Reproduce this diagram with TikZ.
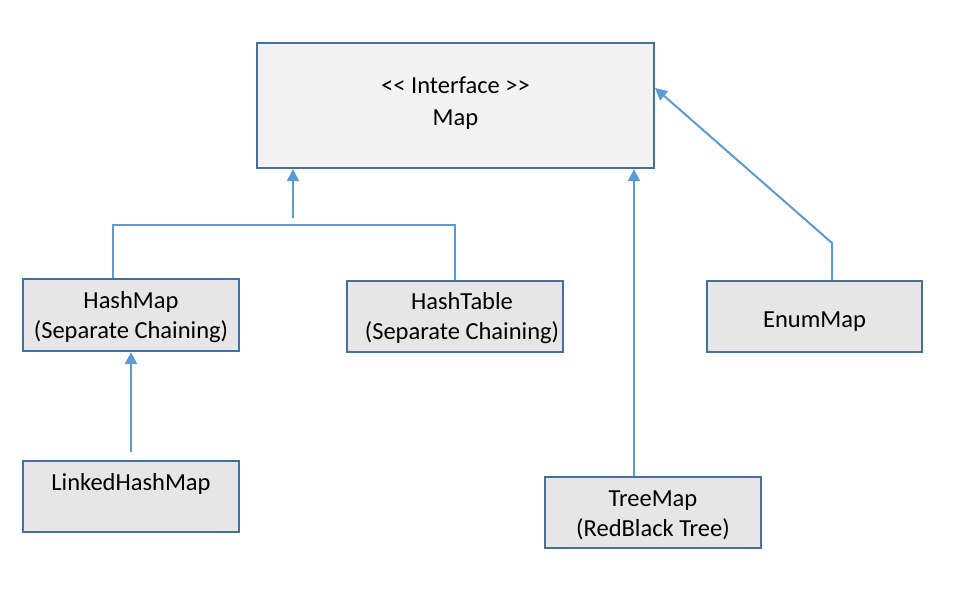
\documentclass[tikz,border=0pt]{standalone}
\usepackage{fontspec}
\setmainfont{Carlito}
\usetikzlibrary{arrows.meta}
\definecolor{bordc}{HTML}{41719C}
\definecolor{linec}{HTML}{5B9BD5}
\definecolor{fillA}{HTML}{F2F2F2}
\definecolor{fillB}{HTML}{E7E6E6}
\begin{document}
\begin{tikzpicture}[x=1pt,y=-1pt,
  umlbox/.style={draw=bordc,line width=2.2pt,inner sep=0pt,align=center,
    fill=fillB,minimum width=216pt,minimum height=71pt,
    font=\fontsize{24.5}{30}\selectfont},
  conn/.style={draw=linec,line width=2pt},
  arr/.style={conn,-{Triangle[width=12pt,length=12pt]}}]
\useasboundingbox (0,0) rectangle (962,594);
\node[umlbox,fill=fillA,minimum width=397pt,minimum height=125pt,
  font=\fontsize{24.5}{32}\selectfont] (map) at (455.5,105.5)
  {<\kern0pt< Interface >\kern0pt>\\Map\rule[-9.5pt]{0pt}{1pt}};
\node[umlbox,minimum height=72pt] (hashmap) at (131,315) {\rule{0pt}{21pt}HashMap\\(Separate Chaining)};
\node[umlbox] (hashtable) at (455,316.5) {\rule{0pt}{21pt}\hspace*{14pt}HashTable\\\hspace*{14pt}(Separate Chaining)};
\node[umlbox,minimum width=215pt] (enummap) at (814.5,316.5) {\rule{0pt}{26pt}EnumMap};
\node[umlbox] (linked) at (131,496.5) {LinkedHashMap\\\phantom{X}};
\node[umlbox] (treemap) at (653,512.5) {\rule{0pt}{22pt}TreeMap\\(RedBlack Tree)};
% bracket HashMap / HashTable
\coordinate (bl) at (113,225);
\coordinate (br) at (455,225);
\coordinate (j1) at (293,218);
\draw[conn] (hashmap.north -| bl) -- (bl) -- (br) -- (hashtable.north);
\draw[arr] (j1) -- (j1 |- map.south);
% TreeMap
\coordinate (tm) at (634,477);
\draw[arr] (treemap.north -| tm) -- (tm |- map.south);
% EnumMap
\coordinate (ek) at (832,243);
\draw[arr] (enummap.north -| ek) -- (ek) -- (map.east |- 0,88);
% LinkedHashMap
\coordinate (lk) at (131,452);
\draw[arr] (lk) -- (lk |- hashmap.south);
\end{tikzpicture}
\end{document}
